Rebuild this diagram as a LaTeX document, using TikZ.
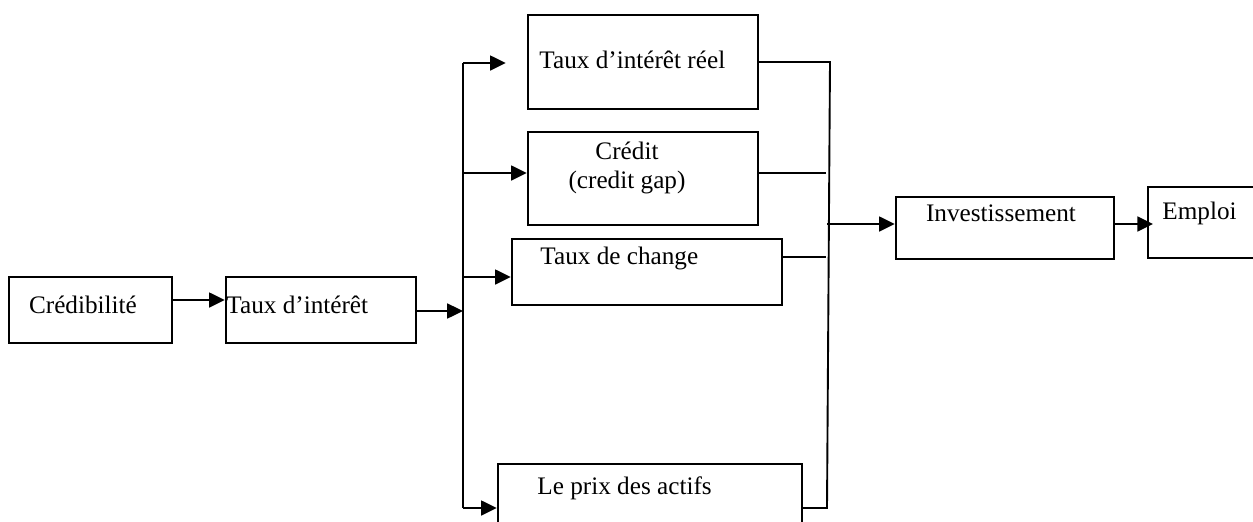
\documentclass[tikz,border=0pt]{standalone}
\usepackage{fontspec}
\setmainfont{Liberation Serif}
\usetikzlibrary{arrows.meta,calc}
\begin{document}
\begin{tikzpicture}[x=0.476pt,y=-0.476pt,
  box/.style={draw,line width=1.15pt,inner sep=0pt,rectangle},
  txt/.style={inner sep=0pt,font=\fontsize{12pt}{14pt}\selectfont},
  arr/.style={line width=1.25pt,-{Triangle[length=7.5pt,width=7pt]}},
  ln/.style={line width=1.15pt},
  thin ln/.style={line width=0.9pt}]
\useasboundingbox (0,0) rectangle (1253,521);
% boxes
\node[box,minimum width=163*0.476pt,minimum height=66*0.476pt] (cred) at (90.5,310) {};
\node[box,minimum width=190*0.476pt,minimum height=66*0.476pt] (taux) at (321,310) {};
\node[box,minimum width=230*0.476pt,minimum height=94*0.476pt] (b1) at (643,62) {};
\node[box,minimum width=230*0.476pt,minimum height=93*0.476pt] (b2) at (643,178.5) {};
\node[box,minimum width=270*0.476pt,minimum height=66*0.476pt] (b3) at (647,272) {};
\node[box,minimum width=304*0.476pt,minimum height=80*0.476pt] (b4) at (650,504) {};
\node[box,minimum width=218*0.476pt,minimum height=62*0.476pt] (inv) at (1005,228) {};
\node[box,minimum width=110*0.476pt,minimum height=71*0.476pt] (emp) at (1203,222.5) {};
% texts
\node[txt] (tcred) at (83,305) {Crédibilité};
\node[txt,anchor=west] (ttaux) at (226,305) {Taux d’intérêt};
\node[txt,anchor=west] (tb1) at (539,60) {Taux d’intérêt réel};
\node[txt,align=center] (tb2) at (627,168) {Crédit\\(credit gap)};
\node[txt,anchor=west] (tb3) at (540,258) {Taux de change};
\node[txt,anchor=west] (tb4) at (537,488) {Le prix des actifs};
\node[txt] (tinv) at (1001,213) {Investissement};
\node[txt,anchor=west] (temp) at (1162,213) {Emploi};
% bus coordinates
\coordinate (L1) at (463,63);
\coordinate (L2) at (463,173);
\coordinate (L3) at (463,277);
\coordinate (Lin) at (463,311);
\coordinate (L4) at (463,508);
\coordinate (R1) at (830,62);
\coordinate (R2) at (826,173);
\coordinate (R3) at (826,257);
\coordinate (Rout) at (827,224);
\coordinate (R4) at (827,508);
% connectors
\draw[arr] (cred.east |- 0,300) -- (taux.west |- 0,300);
\draw[arr] (taux.east |- Lin) -- (Lin);
\draw[ln] (L1) -- (L4);
\draw[arr,shorten >=10pt] (L1) -- (L1 -| b1.west);
\draw[arr] (L2) -- (L2 -| b2.west);
\draw[arr] (L3) -- (L3 -| b3.west);
\draw[arr] (L4) -- (L4 -| b4.west);
\draw[thin ln] (b1.east |- R1) -- (R1) -- (R4) -- (b4.east |- R4);
\draw[thin ln] (b2.east |- R2) -- (R2);
\draw[thin ln] (b3.east |- R3) -- (R3);
\draw[arr] (Rout) -- (Rout -| inv.west);
\draw[arr,shorten >=-3pt] (inv.east |- Rout) -- (Rout -| emp.west);
\end{tikzpicture}
\end{document}
